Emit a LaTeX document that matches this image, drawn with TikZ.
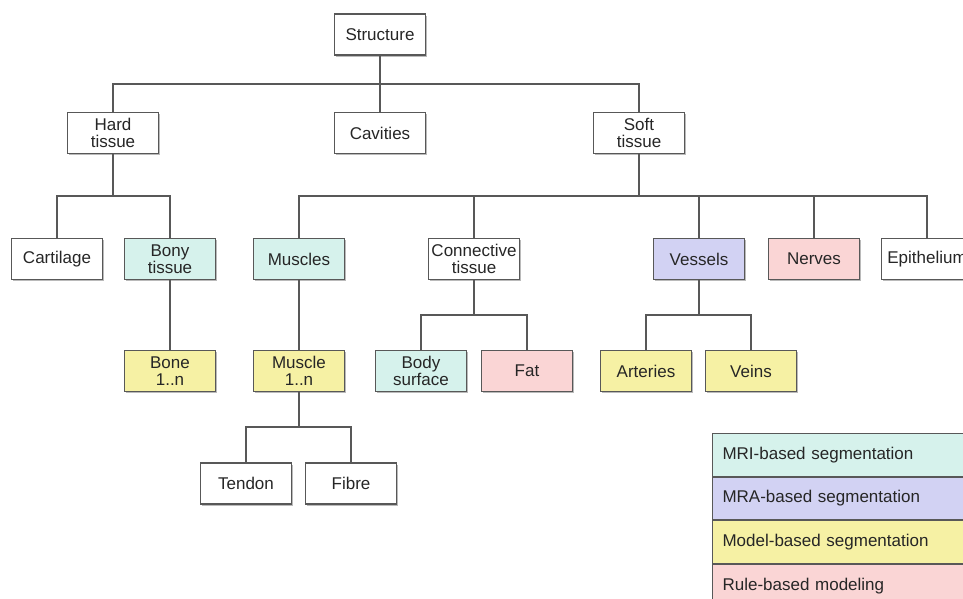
\documentclass[tikz,border=0pt]{standalone}
\usepackage{fontspec}
\setmainfont{Liberation Sans}
\usepackage{tikz}
\usetikzlibrary{shadows}
\definecolor{mricol}{RGB}{214,242,236}
\definecolor{mracol}{RGB}{210,210,243}
\definecolor{modelcol}{RGB}{246,241,164}
\definecolor{rulecol}{RGB}{250,213,213}
\definecolor{edgecol}{RGB}{88,88,88}

\begin{document}
\begin{tikzpicture}[x=1pt,y=-1pt,
    box/.style={draw=edgecol,line width=1.1pt,fill=white,minimum width=91pt,minimum height=41pt,
        inner sep=1pt,align=center,text=black!85,font=\fontsize{17}{17.5}\selectfont,
        drop shadow={shadow xshift=1.6pt,shadow yshift=-1.6pt,fill=black!60,opacity=0.45}},
    legend/.style={draw=edgecol,line width=1.1pt,anchor=north west,minimum height=42.5pt,
        text width=238pt,inner xsep=10pt,align=left,text=black!85,font=\fontsize{17}{17.5}\selectfont},
    tree/.style={draw=edgecol,line width=1.4pt}]
\useasboundingbox (0,0) rectangle (963,599);
%Tree boxes

    \node[box] (structure) at (380,34.5) {Structure};
    \node[box] (hard) at (113,133) {Hard\\tissue};
    \node[box] (cavities) at (380,133) {Cavities};
    \node[box] (soft) at (639,133) {Soft\\tissue};

    \node[box] (cartilage) at (57,259) {Cartilage};
    \node[box,fill=mricol] (bony) at (170,259) {Bony\\tissue};
    \node[box,fill=mricol] (muscles) at (299,259) {Muscles};
    \node[box] (connective) at (474,259) {Connective\\tissue};
    \node[box,fill=mracol] (vessels) at (699,259) {Vessels};
    \node[box,fill=rulecol] (nerves) at (814,259) {Nerves};
    \node[box] (epithelium) at (927,259) {Epithelium};

    \node[box,fill=modelcol] (bone) at (170,371) {Bone\\1..n};
    \node[box,fill=modelcol] (muscle) at (299,371) {Muscle\\1..n};
    \node[box,fill=mricol] (body) at (421,371) {Body\\surface};
    \node[box,fill=rulecol] (fat) at (527,371) {Fat};
    \node[box,fill=modelcol] (arteries) at (646,371) {Arteries};
    \node[box,fill=modelcol] (veins) at (751,371) {Veins};

    \node[box] (tendon) at (246,483.5) {Tendon};
    \node[box] (fibre) at (351,483.5) {Fibre};

%Branch points
    \coordinate (b1) at (380,84);
    \coordinate (b2) at (113,196);
    \coordinate (b3) at (639,196);
    \coordinate (b4) at (474,315);
    \coordinate (b5) at (699,315);
    \coordinate (b6) at (299,427);

    \draw[tree] (structure) -- (b1) -- (cavities);
    \draw[tree] (hard.north) |- (b1) -| (soft.north);
    \draw[tree] (hard) -- (b2);
    \draw[tree] (cartilage.north) |- (b2) -| (bony.north);
    \draw[tree] (soft) -- (b3);
    \draw[tree] (muscles.north) |- (b3) -| (epithelium.north);
    \draw[tree] (connective.north) -- (connective.north |- b3);
    \draw[tree] (vessels.north) -- (vessels.north |- b3);
    \draw[tree] (nerves.north) -- (nerves.north |- b3);
    \draw[tree] (bony) -- (bone);
    \draw[tree] (muscles) -- (muscle);
    \draw[tree] (connective) -- (b4);
    \draw[tree] (body.north) |- (b4) -| (fat.north);
    \draw[tree] (vessels) -- (b5);
    \draw[tree] (arteries.north) |- (b5) -| (veins.north);
    \draw[tree] (muscle) -- (b6);
    \draw[tree] (tendon.north) |- (b6) -| (fibre.north);

%Legend
    \node[legend,fill=mricol] (lmri) at (712,433) {MRI-based segmentation};
    \node[legend,fill=mracol] (lmra) at (lmri.south west) {MRA-based segmentation};
    \node[legend,fill=modelcol] (lmodel) at (lmra.south west) {Model-based segmentation};
    \node[legend,fill=rulecol] (lrule) at (lmodel.south west) {Rule-based modeling};
\end{tikzpicture}
\end{document}
